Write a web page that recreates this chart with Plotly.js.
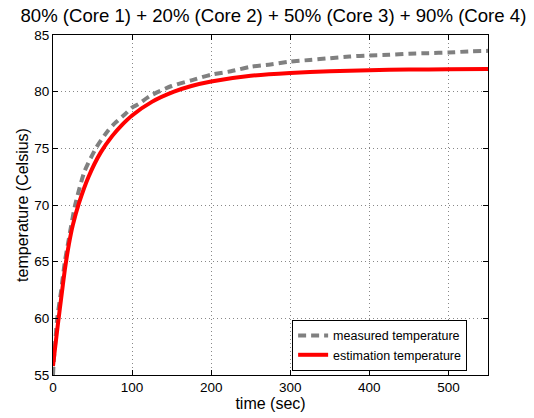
<!DOCTYPE html>
<html>
<head>
<meta charset="utf-8">
<script src="https://cdn.plot.ly/plotly-3.0.1.min.js"></script>
<style>html,body{margin:0;padding:0;background:#fff;}#chart{width:534px;height:418px;}</style>
</head>
<body>
<div id="chart"></div>
<script>
const measuredTime = [0, 1, 3, 5, 10, 15, 20, 28, 40, 55, 70, 78, 91, 100, 108, 122, 150, 175, 200, 225, 250, 275, 300, 325, 350, 375, 400, 425, 450, 475, 500, 525, 550];
const measuredTemp = [55, 56.3, 58.0, 59.8, 62.3, 65.0, 67.0, 70.0, 73.0, 75.1, 76.6, 77.2, 78.0, 78.6, 78.9, 79.6, 80.5, 81.0, 81.5, 81.8, 82.2, 82.4, 82.65, 82.8, 82.95, 83.1, 83.2, 83.25, 83.35, 83.4, 83.45, 83.55, 83.6];
const estTime = [0, 2, 5, 7, 10, 15, 20, 25, 33, 45, 60, 75, 87, 100, 125, 153, 175, 200, 250, 300, 350, 400, 450, 500, 550];
const estTemp = [55.8, 57.0, 58.8, 59.95, 61.6, 64.3, 66.5, 68.2, 70.2, 72.5, 74.6, 76.1, 77.05, 77.9, 79.1, 80.0, 80.5, 80.9, 81.4, 81.65, 81.8, 81.9, 81.95, 81.98, 82.0];
const xTicks = [0, 100, 200, 300, 400, 500];
const yTicks = [55, 60, 65, 70, 75, 80, 85];
const titleText = '80% (Core 1) + 20% (Core 2) + 50% (Core 3) + 90% (Core 4)';

const font = 'Liberation Sans, Arial, sans-serif';
const traces = [
  {x: measuredTime, y: measuredTemp, type: 'scatter', mode: 'lines', name: 'measured temperature',
   line: {color: '#808080', width: 4, dash: '8px,5px', shape: 'spline', smoothing: 0.6}},
  {x: estTime, y: estTemp, type: 'scatter', mode: 'lines', name: 'estimation temperature',
   line: {color: '#ff0000', width: 4, shape: 'spline', smoothing: 0.6}}
];
const axisCommon = {
  showline: true, linecolor: '#000', linewidth: 1, mirror: 'allticks',
  ticks: 'inside', ticklen: 5, tickcolor: '#000', tickwidth: 1,
  showgrid: true, gridcolor: '#888', griddash: '1px,3px', gridwidth: 1,
  zeroline: false, tickfont: {family: font, size: 13.5, color: '#000'}
};
const layout = {
  width: 534, height: 418,
  margin: {l: 53, r: 46, t: 35, b: 43},
  paper_bgcolor: '#fff', plot_bgcolor: '#fff',
  title: {text: titleText, font: {family: font, size: 18.6, color: '#000'}, x: 0.512, xanchor: 'center', y: 0.962, yanchor: 'middle'},
  xaxis: Object.assign({}, axisCommon, {range: [0, 550], tickvals: xTicks, ticktext: xTicks.map(String),
    title: {text: 'time (sec)', font: {family: font, size: 16, color: '#000'}, standoff: 0}}),
  yaxis: Object.assign({}, axisCommon, {range: [55, 85], tickvals: yTicks, ticktext: yTicks.map(String),
    title: {text: 'temperature (Celsius)', font: {family: font, size: 16, color: '#000'}, standoff: 1}}),
  showlegend: true,
  legend: {x: 0.952, y: 0.012, xanchor: 'right', yanchor: 'bottom', bgcolor: '#fff', bordercolor: '#000', borderwidth: 1,
    font: {family: font, size: 12.5, color: '#000'}, tracegroupgap: 0}
};
Plotly.newPlot('chart', traces, layout, {displayModeBar: false, staticPlot: true});
</script>
</body>
</html>
